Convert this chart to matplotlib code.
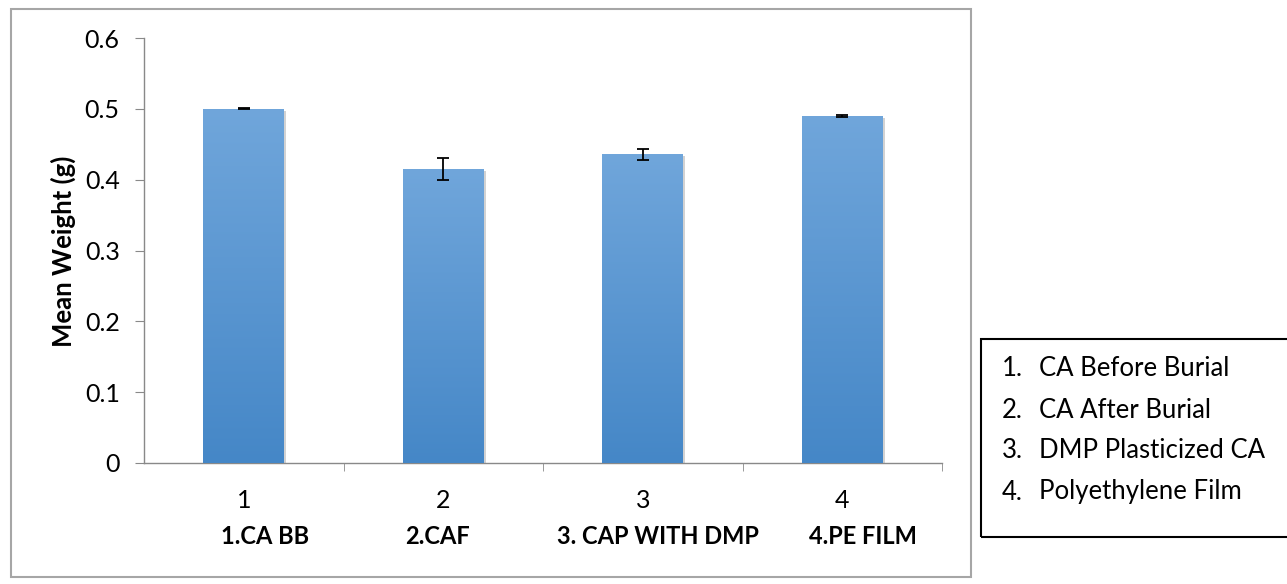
import numpy as np
import matplotlib
matplotlib.use("Agg")
import matplotlib.pyplot as plt
import matplotlib.patheffects as pe
from matplotlib.colors import LinearSegmentedColormap
from matplotlib.patches import Rectangle
from matplotlib.transforms import blended_transform_factory

# data
categories = ["1", "2", "3", "4"]
group_labels = ["1.CA BB", "2.CAF", "3. CAP WITH DMP", "4.PE FILM"]
mean_weight = [0.500, 0.415, 0.436, 0.490]
error = [0.0006, 0.0155, 0.0078, 0.002]
legend_items = ["CA Before Burial", "CA After Burial", "DMP Plasticized CA", "Polyethylene Film"]

plt.rcParams["font.family"] = ["Lato", "DejaVu Sans"]

W, H = 1287, 584
fig = plt.figure(figsize=(W / 100, H / 100), dpi=100)
ax = fig.add_axes([144 / W, 121 / H, 798 / W, 425 / H])

x = np.arange(len(categories))
bars = ax.bar(x, mean_weight, width=0.405, color="#4587c7", edgecolor="none", zorder=2,
              path_effects=[pe.SimplePatchShadow(offset=(1.5, -1.5), shadow_rgbFace="gray", alpha=0.35),
                            pe.Normal()])
ax.set_xlim(-0.5, 3.5)
ax.set_ylim(0, 0.6)

# vertical gradient fill per bar
cmap = LinearSegmentedColormap.from_list("barfill", ["#4587c7", "#70a6db"])
grad = np.linspace(0, 1, 256).reshape(-1, 1)
for b in bars:
    x0, w, h = b.get_x(), b.get_width(), b.get_height()
    im = ax.imshow(grad, extent=[x0, x0 + w, 0, h], origin="lower", cmap=cmap,
                   aspect="auto", zorder=3, interpolation="bilinear")
    im.set_clip_path(b)
ax.set_xlim(-0.5, 3.5)
ax.set_ylim(0, 0.6)

ax.errorbar(x, mean_weight, yerr=error, fmt="none", ecolor="black", elinewidth=1.3,
            capsize=4.5, capthick=1.3, zorder=5)

for s in ["top", "right"]:
    ax.spines[s].set_visible(False)
for s in ["left", "bottom"]:
    ax.spines[s].set_color("#898989")
    ax.spines[s].set_linewidth(1.0)

yt = np.arange(0, 0.61, 0.1)
ax.set_yticks(yt)
ax.set_yticklabels(["0" if i == 0 else f"{v:.1f}" for i, v in enumerate(yt)])
ax.tick_params(axis="y", direction="out", length=6.5, color="#898989", labelsize=18, pad=11)

ax.set_xticks(x, categories)
ax.set_xticks([0.5, 1.5, 2.5, 3.5], minor=True)
ax.tick_params(axis="x", which="major", length=0, labelsize=18, pad=19)
ax.tick_params(axis="x", which="minor", direction="out", length=6, color="#898989")

trans = blended_transform_factory(ax.transData, fig.transFigure)
offsets_px = [21, -6, 15, 21]
for i, lab in enumerate(group_labels):
    ax.text(i + offsets_px[i] / 199.5, 1 - 537 / H, lab, transform=trans, ha="center",
            va="center", fontsize=17, fontweight="bold")

fig.text(63 / W, 1 - 251 / H, "Mean Weight (g)", rotation=90, ha="center", va="center",
         fontsize=18.5, fontweight="bold")

# chart border
fig.patches.append(Rectangle((11 / W, 7 / H), 960 / W, 568 / H, fill=False,
                             edgecolor="#a6a6a6", linewidth=1.5, transform=fig.transFigure))

# text-box legend
fig.patches.append(Rectangle((981 / W, 47 / H), 320 / W, 198 / H, fill=False,
                             edgecolor="black", linewidth=1.5, transform=fig.transFigure))
for i, item in enumerate(legend_items):
    yy = 1 - (369 + 41 * i) / H
    fig.text(1002 / W, yy, f"{i + 1}.", ha="left", va="center", fontsize=18.5)
    fig.text(1039 / W, yy, item, ha="left", va="center", fontsize=18.5)

fig.savefig("out.png", dpi=100)
